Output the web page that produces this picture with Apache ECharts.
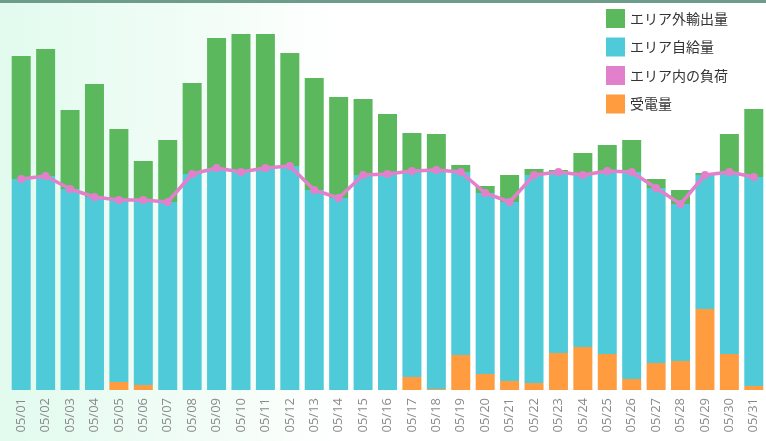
<!DOCTYPE html>
<html>
<head>
<meta charset="utf-8">
<script src="https://cdn.jsdelivr.net/npm/echarts@6/dist/echarts.min.js"></script>
<style>
  html, body { margin: 0; padding: 0; background: #fff; }
  #chart { width: 766px; height: 441px; }
</style>
</head>
<body>
<div id="chart"></div>
<script>
// days of May
const days = ["05/01","05/02","05/03","05/04","05/05","05/06","05/07","05/08","05/09","05/10",
  "05/11","05/12","05/13","05/14","05/15","05/16","05/17","05/18","05/19","05/20",
  "05/21","05/22","05/23","05/24","05/25","05/26","05/27","05/28","05/29","05/30","05/31"];

// 受電量 (bottom of the stack)
const received = [0,0,0,0,8,5,0,0,0,0,0,0,0,0,0,0,13,1,35,16,9,7,37,43,36,11,27,29,81,36,4];
// エリア自給量
const selfSupply = [211,214,201,193,182,185,188,216,222,218,222,224,200,192,215,216,206,219,183,181,179,208,181,172,183,207,175,157,134,182,209];
// エリア外輸出量
const exported = [123,127,79,113,71,39,62,91,130,138,134,113,112,101,76,60,38,36,7,7,27,6,2,22,26,32,9,14,2,38,68];
// エリア内の負荷
const load = [211,214,201,193,190,190,188,216,222,218,222,224,200,192,215,216,219,220,218,197,188,215,218,215,219,218,202,186,215,218,213];

const chart = echarts.init(document.getElementById("chart"));

chart.setOption({
  animation: false,
  backgroundColor: {
    type: "linear", x: 0, y: 0, x2: 1, y2: 0,
    colorStops: [
      { offset: 0, color: "#e2fbee" },
      { offset: 0.3, color: "#f4fdf8" },
      { offset: 0.45, color: "#ffffff" },
      { offset: 1, color: "#ffffff" }
    ]
  },
  graphic: [
    { type: "rect", shape: { x: 0, y: 0, width: 766, height: 3 }, style: { fill: "#6e9c8b" }, z: 100 }
  ],
  legend: {
    orient: "vertical",
    left: 606,
    top: 9,
    padding: 0,
    icon: "rect",
    itemWidth: 19,
    itemHeight: 19,
    itemGap: 9.5,
    textStyle: { fontSize: 14, color: "#333", fontFamily: "Noto Sans CJK JP" },
    data: ["エリア外輸出量", "エリア自給量", "エリア内の負荷", "受電量"]
  },
  grid: { left: 9, width: 758, top: 0, bottom: 51 },
  xAxis: {
    type: "category",
    data: days,
    axisLine: { show: false },
    axisTick: { show: false },
    axisLabel: {
      rotate: 90,
      interval: 0,
      margin: 8,
      color: "#8a8a8a",
      fontSize: 13,
      fontFamily: "Open Sans"
    }
  },
  yAxis: {
    type: "value",
    min: 0,
    max: 390,
    show: false,
    splitLine: { show: false }
  },
  series: [
    {
      name: "受電量", type: "bar", stack: "total", barWidth: 19,
      itemStyle: { color: "#ff9c3f" }, data: received
    },
    {
      name: "エリア自給量", type: "bar", stack: "total", barWidth: 19,
      itemStyle: { color: "#4ecad8" }, data: selfSupply
    },
    {
      name: "エリア外輸出量", type: "bar", stack: "total", barWidth: 19,
      itemStyle: { color: "#5cb85c" }, data: exported
    },
    {
      name: "エリア内の負荷", type: "line", z: 5,
      symbol: "circle", symbolSize: 8,
      lineStyle: { width: 3.5, color: "#e380cb" },
      itemStyle: { color: "#e380cb" },
      data: load
    }
  ]
});
</script>
</body>
</html>
